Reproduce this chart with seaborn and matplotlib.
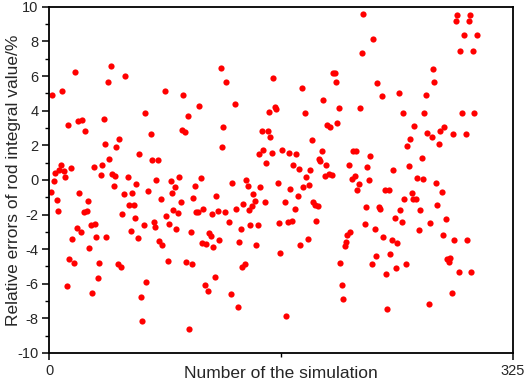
import numpy as np
import pandas as pd
import matplotlib
matplotlib.use("Agg")
import matplotlib.pyplot as plt
import seaborn as sns
from matplotlib.ticker import MultipleLocator, FixedLocator

sim_a = list(range(1, 51))
err_a = [-0.67, 4.93, -0.04, 0.39, -1.18, -1.77, 0.58, 0.85, 5.13, 0.50,
         0.17, -6.11, 3.18, -4.59, 0.69, -3.43, -4.80, 6.24, -2.77, 3.41,
         -0.75, -3.00, 3.49, -1.87, 2.85, -1.81, -1.19, -3.95, -2.58, -6.55,
         0.75, -2.56, -3.31, -5.65, -4.80, 0.27, 0.89, 3.51, 2.10, -3.28,
         5.68, 1.21, 6.57, 0.37, -0.37, 0.23, 1.93, -4.86, 2.37, -5.03]

sim_b = [51, 52, 53, 55, 56, 57, 58, 59, 60, 61, 62, 63, 64, 65, 66, 67, 68, 69,
         71, 72, 73, 74, 75, 76, 77, 78, 79, 81, 82, 83, 84, 85, 86, 87, 88, 89,
         90, 91, 92, 93, 94, 95, 96, 97, 98, 99, 100, 101, 102, 103, 104, 105,
         106, 107]
err_b = [-1.95, -0.82, 6.01, 0.15, -1.43, -2.93, -0.77, -1.43, -2.22, -0.23,
         -3.35, 1.48, -6.74, -8.13, -2.62, 3.89, -5.90, -0.62,
         2.64, 1.16, -2.43, -2.74, 0.00, 1.16, -3.53, -1.08, -3.78, 5.14, -2.06,
         -4.66, -2.52, -0.08, -0.75, -1.71, -0.39, -2.81, -1.89, 0.15, -1.27,
         2.91, 4.91, 2.77, -4.74, 3.68, -8.63, -3.02, -4.87, -1.04, -0.35,
         -1.85, -1.85, 4.26, 0.12, -3.62]

sim_c = [108, 109, 110, 111, 112, 113, 114, 115, 116, 117, 118, 119, 120, 121,
         122, 123, 124, 126, 127, 128, 130, 131, 132, 133, 134, 135, 136, 137,
         138, 139, 140, 141, 142, 143, 144, 145, 146, 147, 148, 149, 150, 151,
         152, 153, 154, 155, 156, 157, 158, 159, 160, 161, 162, 163]
err_c = [-1.68, -6.07, -3.68, -6.42, -3.08, -3.22, -1.95, -3.85, -5.59, -0.91,
         -1.77, -3.47, 6.45, 1.93, 3.03, -1.85, 5.68, -2.43, -6.59, -0.19,
         4.37, -1.68, -7.34, -3.60, -2.81, -5.01, -1.39, -4.86, 0.02, -0.37,
         -1.73, -2.62, -1.48, -0.83, -1.21, -3.78, -2.62, 1.48, -0.40, 2.83,
         1.73, -1.27, 1.00, 2.83, 3.95, 2.47, 1.58, 5.90, 4.24, 4.08, -0.17,
         -2.50, -4.20, 1.71]

sim_d = list(range(165, 220))
err_d = [-1.25, -7.84, -2.41, 1.58, -0.50, -2.35, 0.87, -1.70, 1.50, -0.91,
         0.66, -3.76, 5.32, -0.40, 3.89, 0.17, -3.39, -0.31, 0.56, 2.33,
         -1.25, -1.45, -2.37, -1.50, 1.23, 1.08, 1.66, 4.60, 0.23, 0.85,
         3.16, 0.37, 3.08, 0.29, 6.20, 6.17, 5.63, 3.28, 4.18, -4.82,
         -6.07, -6.88, -3.83, -3.60, -3.20, 0.87, -3.02, 0.08, 1.66, 0.23,
         1.68, -0.58, -0.21, 4.18, 7.32]

sim_e = list(range(220, 274))
err_e = [9.56, -2.52, -1.56, 0.77, 0.00, 1.41, -4.84, 8.17, -2.81, -4.39,
         5.59, -1.58, -1.68, 4.84, -3.28, -0.60, -5.43, -7.46, -0.56, -4.28,
         -3.49, 0.56, -2.20, -5.11, -3.64, 5.05, -1.75, -2.41, 3.85, -1.10,
         -4.86, 1.98, 0.81, 2.39, -0.73, -1.10, 3.10, -1.12, 0.12, -2.89,
         -1.73, 1.25, 0.04, 3.89, 4.93, 2.74, -7.19, -2.50, 2.50, 6.42,
         5.63, -0.19, -1.43, 2.08]

sim_f = [274, 275, 276, 277, 278, 279, 280, 281, 282, 283, 284, 285, 286, 287,
         288, 289, 291, 292, 293, 294, 295, 296, 297, 298, 300]
err_f = [2.85, -0.71, -3.20, 3.03, -2.25, -4.59, -4.76, -4.49, -6.55, 2.64,
         -3.47, 9.21, 9.54, -5.32, 7.44, 3.85, 8.40, 2.64, -3.47, 9.21,
         9.54, -5.32, 7.44, 3.85, 8.40]

x_ticks = [0, 325]
y_ticks = [-10, -8, -6, -4, -2, 0, 2, 4, 6, 8, 10]

df = pd.DataFrame({
    "sim": sim_a + sim_b + sim_c + sim_d + sim_e + sim_f,
    "err": err_a + err_b + err_c + err_d + err_e + err_f,
})

sns.set_style("white")
plt.rcParams["font.family"] = ["Liberation Sans", "DejaVu Sans"]

fig = plt.figure(figsize=(5.26, 3.82), dpi=100)
ax = fig.add_axes([0.094, 0.076, 0.881, 0.906])

sns.scatterplot(data=df, x="sim", y="err", ax=ax, color="#ff0000",
                s=20, linewidth=0, legend=False)

ax.set_xlim(0, 325)
ax.set_ylim(-10, 10)
ax.xaxis.set_major_locator(FixedLocator(x_ticks))
ax.xaxis.set_minor_locator(FixedLocator([162.5]))
ax.set_yticks(y_ticks)
ax.yaxis.set_minor_locator(MultipleLocator(1))
ax.tick_params(axis="both", which="major", direction="out", length=5,
               width=1.1, color="black", labelsize=10.5, pad=3,
               bottom=True, left=True, top=False, right=False)
ax.tick_params(axis="both", which="minor", direction="out", length=3,
               width=1.0, color="black", bottom=True, left=True,
               top=False, right=False)
ax.set_yticklabels([str(v) for v in y_ticks])

for side in ["left", "right", "top", "bottom"]:
    ax.spines[side].set_visible(True)
    ax.spines[side].set_color("black")
    ax.spines[side].set_linewidth(1.3)

ax.set_xlabel("Number of the simulation", fontsize=12.5)
ax.set_ylabel("Relative errors of rod integral value/%", fontsize=12.5)
ax.xaxis.set_label_coords(0.5, -0.058)
ax.xaxis.label.set_va("center")
ax.yaxis.set_label_coords(-0.077, 0.5)
ax.yaxis.label.set_va("center")

fig.savefig("out.png", dpi=100)
